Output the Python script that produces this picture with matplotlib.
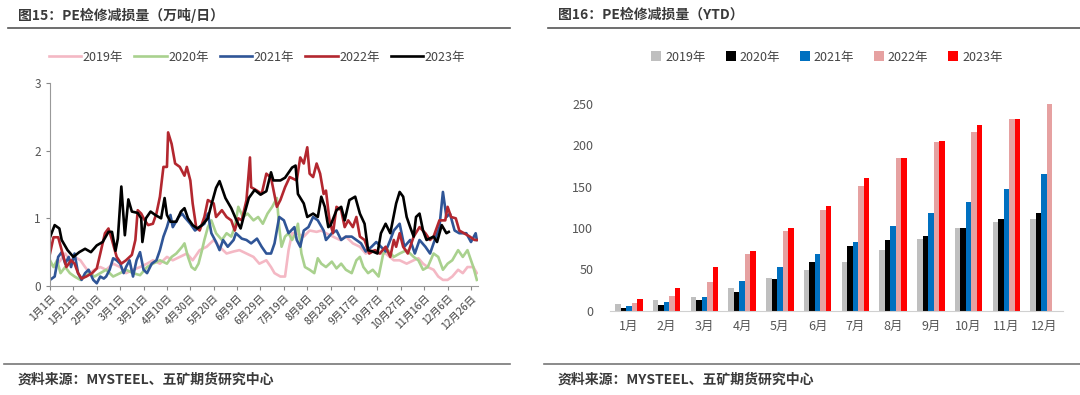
import matplotlib
matplotlib.use('Agg')
import matplotlib.pyplot as plt
from matplotlib.lines import Line2D
import numpy as np

plt.rcParams['font.family'] = ['Noto Sans CJK SC', 'DejaVu Sans']

# ---- left chart: daily maintenance loss (万吨/日) ----
days_2019 = [0, 4, 9, 13, 17, 21, 26, 30, 34, 38, 43, 48, 54, 60, 65, 71, 77, 83, 88, 94, 100, 105, 111, 117,
             122, 128, 134, 140, 145, 151, 157, 162, 168, 174, 179, 185, 189, 192, 197, 201, 204, 207, 211, 217,
             222, 228, 232, 236, 242, 248, 253, 259, 265, 270, 276, 282, 287, 294, 299, 305, 311, 315, 319, 323,
             328, 332, 336, 340, 344, 349, 353, 357, 362, 365]
vals_2019 = [0.33, 0.28, 0.38, 0.48, 0.38, 0.43, 0.38, 0.28, 0.19, 0.24, 0.28, 0.24, 0.33, 0.28, 0.19, 0.24, 0.28,
             0.33, 0.38, 0.33, 0.43, 0.38, 0.43, 0.48, 0.38, 0.53, 0.58, 0.68, 0.58, 0.48, 0.51, 0.53, 0.48, 0.43,
             0.33, 0.38, 0.28, 0.19, 0.14, 0.14, 0.53, 0.78, 0.78, 0.73, 0.82, 0.80, 0.82, 0.78, 0.73, 0.68, 0.73,
             0.63, 0.58, 0.48, 0.53, 0.48, 0.48, 0.38, 0.38, 0.33, 0.38, 0.41, 0.33, 0.28, 0.24, 0.14, 0.09, 0.09,
             0.14, 0.24, 0.19, 0.28, 0.28, 0.19]

days_2020 = [0, 3, 6, 9, 13, 17, 21, 26, 30, 34, 38, 43, 48, 54, 60, 65, 71, 77, 83, 88, 94, 100, 104, 108, 113,
             115, 118, 121, 124, 127, 130, 132, 135, 138, 142, 147, 151, 155, 158, 161, 165, 169, 174, 178, 182,
             186, 190, 194, 196, 198, 201, 204, 207, 210, 212, 215, 218, 222, 226, 229, 232, 236, 241, 245, 249,
             253, 258, 262, 265, 268, 272, 276, 281, 285, 289, 294, 299, 305, 311, 315, 319, 323, 328, 332, 336,
             340, 344, 349, 353, 357, 362, 365]
vals_2020 = [0.38, 0.28, 0.38, 0.19, 0.28, 0.19, 0.14, 0.09, 0.14, 0.19, 0.14, 0.19, 0.24, 0.14, 0.19, 0.24, 0.19,
             0.16, 0.28, 0.33, 0.38, 0.33, 0.43, 0.48, 0.58, 0.63, 0.43, 0.28, 0.24, 0.33, 0.53, 0.68, 0.87, 0.97,
             0.78, 0.68, 0.78, 0.73, 0.87, 1.17, 1.02, 1.07, 0.97, 1.02, 0.92, 1.07, 1.17, 1.30, 0.87, 0.58, 0.73,
             0.78, 0.68, 0.78, 0.92, 0.48, 0.28, 0.24, 0.19, 0.41, 0.33, 0.28, 0.36, 0.26, 0.33, 0.24, 0.19, 0.38,
             0.43, 0.28, 0.19, 0.24, 0.14, 0.48, 0.53, 0.43, 0.48, 0.53, 0.43, 0.38, 0.24, 0.28, 0.48, 0.43, 0.24,
             0.33, 0.38, 0.53, 0.43, 0.53, 0.28, 0.09]

days_2021 = [0, 4, 7, 10, 13, 16, 18, 21, 24, 27, 30, 33, 37, 40, 43, 46, 48, 51, 54, 57, 60, 63, 65, 68, 71, 74,
             77, 80, 83, 87, 91, 94, 97, 100, 103, 105, 110, 113, 115, 120, 124, 128, 132, 135, 138, 142, 145, 148,
             152, 157, 159, 164, 168, 172, 177, 181, 185, 189, 192, 196, 200, 204, 209, 211, 214, 217, 221, 225,
             229, 234, 236, 241, 245, 249, 253, 258, 262, 266, 270, 275, 279, 283, 287, 291, 294, 299, 303, 308,
             312, 316, 321, 325, 329, 333, 336, 339, 342, 346, 350, 356, 360, 364, 365]
vals_2021 = [0.09, 0.14, 0.43, 0.50, 0.33, 0.43, 0.28, 0.48, 0.19, 0.09, 0.19, 0.24, 0.09, 0.04, 0.14, 0.11, 0.14,
             0.24, 0.41, 0.38, 0.33, 0.19, 0.28, 0.38, 0.14, 0.38, 0.50, 0.24, 0.19, 0.33, 0.38, 0.53, 0.73, 0.87,
             1.05, 0.87, 1.02, 1.07, 1.02, 0.92, 0.82, 0.87, 0.92, 1.07, 0.78, 0.65, 0.53, 0.68, 0.58, 0.68, 0.78,
             0.70, 0.68, 0.63, 0.70, 0.58, 0.48, 0.48, 0.63, 1.02, 0.97, 0.78, 0.87, 0.68, 0.58, 0.82, 0.87, 1.02,
             0.97, 0.82, 0.68, 0.78, 0.82, 0.68, 0.73, 0.73, 0.68, 0.63, 0.51, 0.58, 0.65, 0.58, 0.51, 0.68, 0.82,
             0.92, 0.58, 0.68, 0.48, 0.68, 0.58, 0.48, 0.68, 0.87, 1.39, 1.02, 1.07, 0.82, 0.78, 0.78, 0.65, 0.78,
             0.68]

days_2022 = [0, 3, 7, 10, 14, 18, 21, 24, 27, 31, 36, 40, 43, 47, 50, 53, 57, 61, 65, 70, 73, 75, 78, 81, 84, 88,
             91, 94, 97, 100, 101, 104, 107, 111, 115, 117, 120, 122, 125, 128, 132, 135, 140, 142, 147, 151, 155,
             158, 161, 164, 168, 171, 172, 177, 181, 185, 189, 194, 197, 201, 205, 211, 214, 217, 220, 222, 225,
             228, 231, 234, 236, 239, 242, 245, 249, 252, 255, 259, 262, 265, 269, 273, 278, 282, 287, 291, 294,
             296, 299, 302, 306, 311, 316, 321, 325, 328, 333, 338, 340, 343, 347, 350, 354, 359, 363, 365]
vals_2022 = [0.48, 0.72, 0.72, 0.53, 0.28, 0.38, 0.33, 0.19, 0.11, 0.14, 0.19, 0.26, 0.48, 0.78, 0.85, 0.68, 0.43,
             0.33, 0.38, 0.46, 0.68, 1.12, 1.07, 0.97, 0.90, 0.92, 1.07, 1.32, 1.76, 1.76, 2.27, 2.10, 1.81, 1.76,
             1.63, 1.76, 1.56, 1.22, 0.87, 0.82, 1.02, 1.27, 1.22, 1.02, 1.12, 1.02, 0.97, 0.82, 1.00, 0.97, 1.27,
             1.90, 1.46, 1.41, 1.36, 1.66, 1.60, 1.17, 1.27, 1.46, 1.61, 1.56, 1.90, 1.81, 2.05, 1.66, 1.61, 1.81,
             1.66, 1.36, 1.41, 0.97, 0.78, 1.17, 1.12, 0.87, 0.97, 0.87, 1.02, 0.73, 0.68, 0.48, 0.53, 0.48, 0.58,
             0.43, 0.68, 0.58, 0.78, 0.58, 0.48, 0.73, 0.87, 0.78, 0.68, 0.73, 0.97, 0.97, 1.17, 1.02, 1.00, 0.82,
             0.78, 0.73, 0.68, 0.68]

days_2023 = [0, 4, 8, 10, 15, 20, 25, 30, 35, 40, 45, 50, 53, 56, 58, 61, 64, 67, 70, 75, 78, 79, 82, 86, 90, 95,
             98, 100, 103, 108, 112, 115, 118, 122, 126, 130, 135, 138, 142, 145, 150, 155, 160, 163, 166, 170,
             175, 180, 185, 189, 191, 197, 201, 207, 210, 212, 217, 220, 225, 229, 232, 235, 238, 240, 245, 249,
             252, 256, 261, 265, 269, 272, 276, 280, 283, 287, 291, 296, 299, 302, 305, 308, 311, 313, 316, 319,
             322, 328, 331, 335, 339, 341]
vals_2023 = [0.72, 0.90, 0.85, 0.68, 0.53, 0.43, 0.50, 0.55, 0.50, 0.60, 0.65, 0.80, 0.80, 0.52, 0.70, 1.47, 0.75,
             1.28, 1.10, 1.08, 1.00, 0.65, 1.00, 1.10, 1.05, 1.00, 1.30, 1.05, 0.95, 0.95, 1.10, 1.15, 1.00, 0.90,
             0.85, 0.90, 1.00, 1.20, 1.45, 1.55, 1.30, 1.15, 0.95, 0.85, 1.05, 1.30, 1.42, 1.35, 1.40, 1.68, 1.56,
             1.56, 1.60, 1.75, 1.78, 1.36, 1.22, 1.02, 1.07, 1.02, 1.32, 1.17, 0.87, 0.90, 1.12, 1.17, 0.97, 1.27,
             1.32, 1.07, 0.92, 0.53, 0.51, 0.48, 0.78, 0.92, 0.78, 1.22, 1.39, 1.32, 1.02, 0.87, 0.73, 1.02, 1.07,
             0.82, 0.68, 0.73, 0.65, 0.90, 0.78, 0.80]

date_ticks = [0, 20, 40, 60, 80, 100, 120, 140, 160, 180, 200, 220, 240, 260, 280, 300, 320, 340, 360]
date_labels = ['1月1日', '1月21日', '2月10日', '3月1日', '3月21日', '4月10日', '4月30日', '5月20日', '6月9日',
               '6月29日', '7月19日', '8月8日', '8月28日', '9月17日', '10月7日', '10月27日', '11月16日',
               '12月6日', '12月26日']

# ---- right chart: YTD maintenance loss (万吨) ----
months = ['1月', '2月', '3月', '4月', '5月', '6月', '7月', '8月', '9月', '10月', '11月', '12月']
ytd_2019 = [8, 13, 17, 27, 39, 49, 58.5, 74, 87, 100, 107, 111]
ytd_2020 = [3.6, 7, 13, 23, 38, 58.5, 78, 85, 90, 100, 111, 118]
ytd_2021 = [5.7, 10, 17, 36, 53, 68, 83, 103, 118, 132, 147, 165]
ytd_2022 = [9, 18, 35, 69, 96, 122, 151, 184.6, 203.6, 216.5, 231.4, 249.6]
ytd_2023 = [14.5, 28, 53, 72, 100, 126.6, 161, 185, 205.6, 224.5, 231.5, np.nan]

years = ['2019年', '2020年', '2021年', '2022年', '2023年']
line_colors = ['#F4B8C4', '#A9D18E', '#2F5597', '#B3272F', '#000000']
bar_colors = ['#BFBFBF', '#000000', '#0070C0', '#E6A1A1', '#FF0000']

W, H = 1080, 395
fig = plt.figure(figsize=(W / 100, H / 100), dpi=100)


def fx(px):
    return px / W


def fy(py):
    return 1 - py / H


txt_color = '#3A3A3A'

# headers, rules and source lines
for x0, x1, title in [(8, 510, '图15：PE检修减损量（万吨/日）'), (548, 1080, '图16：PE检修减损量（YTD）')]:
    fig.text(fx(x0 + 10), fy(15), title, fontsize=10, fontweight='bold', color=txt_color, va='center')
    fig.add_artist(Line2D([fx(x0), fx(x1)], [fy(28), fy(28)], color='#555555', lw=1.2))
    fig.add_artist(Line2D([fx(x0 - 4), fx(x1)], [fy(364), fy(364)], color='#777777', lw=1.2))
    fig.text(fx(x0 + 10), fy(380), '资料来源：MYSTEEL、五矿期货研究中心', fontsize=10, fontweight='bold',
             color=txt_color, va='center')

# left line chart
ax1 = fig.add_axes([fx(50), fy(286), fx(478) - fx(50), fy(83) - fy(286)])
series = [(days_2019, vals_2019), (days_2020, vals_2020), (days_2021, vals_2021),
          (days_2022, vals_2022), (days_2023, vals_2023)]
for (d, v), c, lab in zip(series, line_colors, years):
    ax1.plot(d, v, color=c, lw=1.9, label=lab)
ax1.set_xlim(0, 366)
ax1.set_ylim(0, 3)
ax1.set_yticks([0, 1, 2, 3])
ax1.set_xticks(date_ticks)
ax1.set_xticklabels(date_labels, rotation=45, ha='right', rotation_mode='anchor')
ax1.tick_params(axis='x', labelsize=7.5, length=3, color='#888888', labelcolor='#404040', pad=2)
ax1.tick_params(axis='y', labelsize=8.5, length=3, color='#888888', labelcolor='#555555')
for s in ['top', 'right']:
    ax1.spines[s].set_visible(False)
for s in ['left', 'bottom']:
    ax1.spines[s].set_color('#999999')
fig.legend(*ax1.get_legend_handles_labels(), loc='center', bbox_to_anchor=(fx(257), fy(57)), ncol=5,
           frameon=False, fontsize=9, handlelength=2.6, columnspacing=0.9, handletextpad=0.1,
           labelcolor='#444444')

# right bar chart
ax2 = fig.add_axes([fx(610), fy(310.7), fx(1063) - fx(610), fy(104) - fy(310.7)])
x = np.arange(len(months))
bw = 0.146
for i, (vals, c, lab) in enumerate(zip([ytd_2019, ytd_2020, ytd_2021, ytd_2022, ytd_2023], bar_colors, years)):
    ax2.bar(x + (i - 2) * bw, vals, width=bw, color=c, label=lab)
ax2.set_xlim(-0.5, len(months) - 0.5)
ax2.set_ylim(0, 250)
ax2.set_yticks([0, 50, 100, 150, 200, 250])
ax2.set_xticks(x)
ax2.set_xticklabels(months)
ax2.tick_params(axis='both', length=0, labelsize=9, labelcolor='#555555')
ax2.tick_params(axis='y', pad=12)
ax2.tick_params(axis='x', pad=7)
for s in ['top', 'right', 'left']:
    ax2.spines[s].set_visible(False)
ax2.spines['bottom'].set_color('#D0D0D0')
fig.legend(*ax2.get_legend_handles_labels(), loc='center', bbox_to_anchor=(fx(827), fy(57)), ncol=5,
           frameon=False, fontsize=9, handlelength=0.8, handleheight=0.8, columnspacing=1.6,
           handletextpad=0.3, labelcolor='#444444')

fig.savefig('out.png', dpi=100)
